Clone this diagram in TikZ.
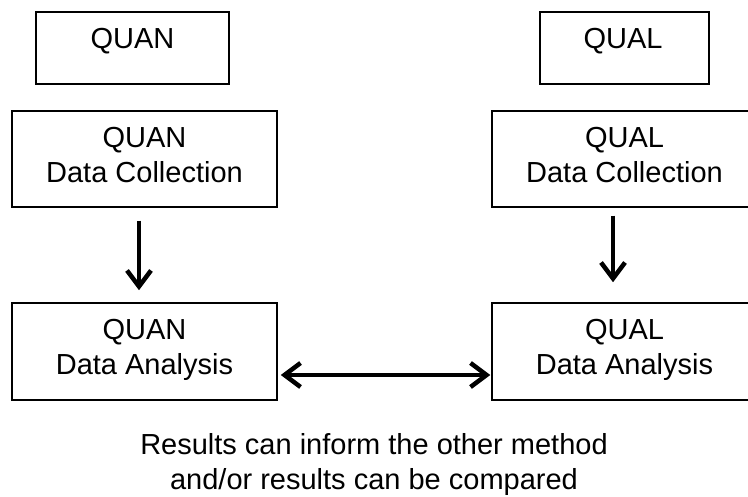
\documentclass[tikz,border=0pt]{standalone}
\usepackage{fontspec}
\setmainfont{Liberation Sans}
\usetikzlibrary{arrows.meta}
\begin{document}
\begin{tikzpicture}[x=1pt,y=1pt,
  box/.style={draw, line width=1.5pt, inner sep=0pt},
  lbl/.style={font=\fontsize{29}{35}\selectfont, align=center, inner sep=0pt},
  tip/.style={},
  arr/.style={line width=3.5pt, -{Straight Barb[length=16pt,width=24pt,line width=4.5pt]}},
  darr/.style={line width=3.5pt, {Straight Barb[length=16pt,width=24pt,line width=4.5pt]}-{Straight Barb[length=16pt,width=24pt,line width=4.5pt]}}]
\useasboundingbox (0,0) rectangle (748,496);
\clip (0,0) rectangle (748,496);
% top boxes
\node[box, minimum width=193pt, minimum height=72pt] (quan) at (132.5,448) {};
\node[lbl, anchor=base] (quant) at (132.5,447) {QUAN};
\node[box, minimum width=169pt, minimum height=72pt] (qual) at (624.5,448) {};
\node[lbl, anchor=base] (qualt) at (623,447) {QUAL};
% data collection
\node[box, minimum width=265pt, minimum height=96pt] (quandc) at (144.5,337) {};
\node[lbl] (quandct) at ([yshift=4pt]quandc.center) {QUAN\\Data Collection};
\node[box, minimum width=265pt, minimum height=96pt] (qualdc) at (624.5,337) {};
\node[lbl] (qualdct) at ([yshift=4pt]qualdc.center) {QUAL\\Data Collection};
% data analysis
\node[box, minimum width=265pt, minimum height=97pt] (quanda) at (144.5,144.5) {};
\node[lbl] (quandat) at ([yshift=2pt]quanda.center) {QUAN\\Data Analysis};
\node[box, minimum width=265pt, minimum height=97pt] (qualda) at (624.5,144.5) {};
\node[lbl] (qualdat) at ([yshift=2pt]qualda.center) {QUAL\\Data Analysis};
% arrows
\draw[arr] ([xshift=-5.5pt,yshift=-13pt]quandc.south) -- ([xshift=-5.5pt,yshift=12pt]quanda.north);
\draw[arr] ([xshift=-11.5pt,yshift=-8pt]qualdc.south) -- ([xshift=-11.5pt,yshift=20pt]qualda.north);
\draw[darr] ([xshift=3pt,yshift=-23.5pt]quanda.east) -- ([xshift=-1pt,yshift=-23.5pt]qualda.west);
% caption
\node[lbl] (caption) at (374,31) {Results can inform the other method\\and/or results can be compared};
\end{tikzpicture}
\end{document}
